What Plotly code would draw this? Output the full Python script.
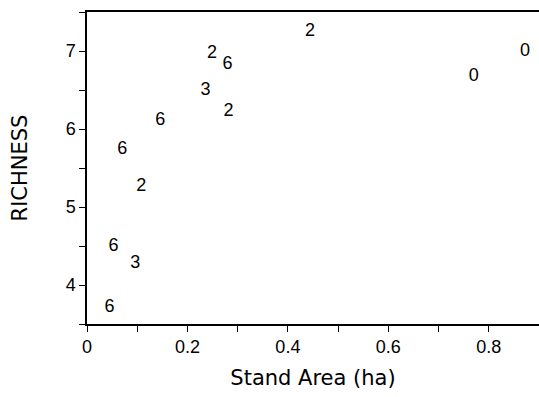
import plotly.graph_objects as go

# Data
stand_area = [0.444, 0.872, 0.770, 0.249, 0.280, 0.236, 0.282, 0.146, 0.070, 0.108, 0.053, 0.096, 0.045]
richness = [7.25, 7.00, 6.67, 6.97, 6.83, 6.49, 6.22, 6.11, 5.74, 5.26, 4.50, 4.27, 3.71]
point_labels = ["2", "0", "0", "2", "6", "3", "2", "6", "6", "2", "6", "3", "6"]

x_tickvals = [0, 0.2, 0.4, 0.6, 0.8]
x_ticktext = ["0", "0.2", "0.4", "0.6", "0.8"]
y_tickvals = [4, 5, 6, 7]
y_ticktext = ["4", "5", "6", "7"]

FONT = "Liberation Sans, Arial, sans-serif"
TITLE_FONT = "DejaVu Sans, sans-serif"

fig = go.Figure(
    go.Scatter(
        x=stand_area,
        y=richness,
        mode="text",
        text=point_labels,
        textposition="middle center",
        textfont=dict(family=FONT, size=18, color="black"),
        cliponaxis=False,
        hoverinfo="x+y",
    )
)

fig.update_layout(
    width=539,
    height=397,
    margin=dict(l=87, r=0, t=12, b=73),
    paper_bgcolor="white",
    plot_bgcolor="white",
    showlegend=False,
    font=dict(family=FONT, color="black"),
)

fig.update_xaxes(
    range=[0, 0.9],
    tickvals=x_tickvals,
    ticktext=x_ticktext,
    ticks="outside",
    ticklen=6,
    tickwidth=1.3,
    tickcolor="black",
    minor=dict(dtick=0.1, ticks="outside", ticklen=6, tickwidth=1.3, tickcolor="black", showgrid=False),
    showline=True,
    linecolor="black",
    linewidth=1.5,
    mirror=True,
    showgrid=False,
    zeroline=False,
    tickfont=dict(family=FONT, size=18, color="black"),
    title=dict(text="Stand Area (ha)", font=dict(family=TITLE_FONT, size=21, color="black"), standoff=14),
)

fig.update_yaxes(
    range=[3.5, 7.5],
    tickvals=y_tickvals,
    ticktext=y_ticktext,
    ticks="outside",
    ticklen=6,
    tickwidth=1.3,
    tickcolor="black",
    minor=dict(dtick=0.5, ticks="outside", ticklen=6, tickwidth=1.3, tickcolor="black", showgrid=False),
    showline=True,
    linecolor="black",
    linewidth=1.5,
    showgrid=False,
    zeroline=False,
    tickfont=dict(family=FONT, size=18, color="black"),
    title=dict(text="RICHNESS", font=dict(family=TITLE_FONT, size=21, color="black"), standoff=32),
)

fig.write_html(
    "out.html",
    config={"displayModeBar": False},
    post_script="document.body.style.margin='0';document.body.style.overflow='hidden';",
)
